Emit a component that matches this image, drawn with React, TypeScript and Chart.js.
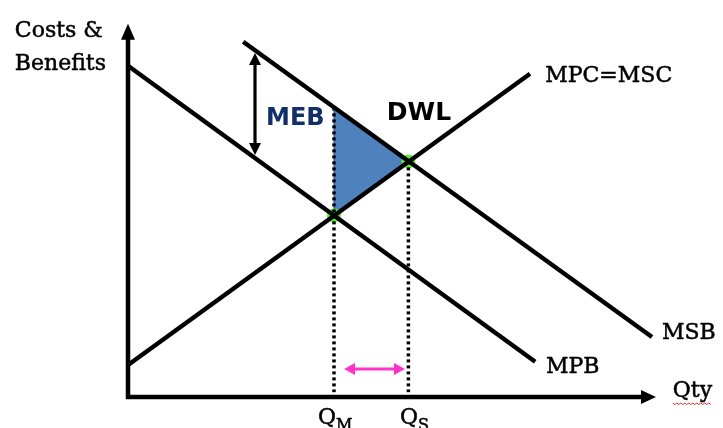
import React, { useEffect, useRef } from "react";
import { Chart, registerables } from "chart.js";

Chart.register(...registerables);

// ---- Data (quantity on x, costs & benefits on y, arbitrary units) ----
const mpbLine = [{ x: 0, y: 8.28 }, { x: 10.18, y: 0.88 }];
const msbLine = [{ x: 2.88, y: 8.88 }, { x: 13.1, y: 1.5 }];
const mpcLine = [{ x: 0, y: 0.8 }, { x: 10.05, y: 8.08 }];
const qM = 5.15; // market quantity (MPB = MPC)
const qS = 7.01; // social optimum (MSB = MSC)
const pM = 4.54;
const pMsbAtQM = 7.24;
const pS = 5.89;
const dwlTriangle = [
  { x: qM, y: pMsbAtQM },
  { x: qS, y: pS },
  { x: qM, y: pM },
  { x: qM, y: pMsbAtQM },
];
const equilibria = [{ x: qM, y: pM }, { x: qS, y: pS }];
const qmDrop = [{ x: qM, y: pMsbAtQM }, { x: qM, y: 0.12 }];
const qsDrop = [{ x: qS, y: pS }, { x: qS, y: 0.12 }];
const axisTopValue = 9.33;
const axisRightValue = 13.2;
const mebArrow = { x: 3.175, top: 8.6, bottom: 6.05 };
const gapArrow = { y: 0.7, left: 5.4, right: 6.925 };

const serifLabels = [
  { text: "Costs &", x: -2.83, y: 9.0 },
  { text: "Benefits", x: -2.83, y: 8.18 },
  { text: "MPC=MSC", x: 10.43, y: 7.87 },
  { text: "MSB", x: 13.35, y: 1.45 },
  { text: "MPB", x: 10.45, y: 0.6 },
  { text: "Qty", x: 13.62, y: 0.0 },
];
const qLabels = [
  { main: "Q", sub: "M", x: 4.75, y: -0.675 },
  { main: "Q", sub: "S", x: 6.8, y: -0.675 },
];
const boldLabels = [
  { text: "MEB", x: 3.45, y: 6.8, color: "#122f6a", size: 24 },
  { text: "DWL", x: 6.47, y: 6.93, color: "#000000", size: 25 },
];

const X_MIN = -3.2, X_MAX = 14.875, Y_MIN = -0.775, Y_MAX = 9.925;

function arrowHead(ctx: CanvasRenderingContext2D, tx: number, ty: number, dx: number, dy: number, len: number, w: number) {
  const bx = tx - dx * len, by = ty - dy * len;
  const px = -dy, py = dx;
  ctx.beginPath();
  ctx.moveTo(tx, ty);
  ctx.lineTo(bx + (px * w) / 2, by + (py * w) / 2);
  ctx.lineTo(bx - (px * w) / 2, by - (py * w) / 2);
  ctx.closePath();
  ctx.fill();
}

function serifText(ctx: CanvasRenderingContext2D, text: string, x: number, y: number) {
  ctx.fillText(text, x, y);
  ctx.strokeText(text, x, y);
}

const annotations = {
  id: "annotations",
  afterDatasetsDraw(chart: any) {
    const { ctx } = chart;
    const xs = chart.scales.x, ys = chart.scales.y;
    const X = (v: number) => xs.getPixelForValue(v);
    const Y = (v: number) => ys.getPixelForValue(v);
    ctx.save();

    // axes
    ctx.strokeStyle = "#000";
    ctx.fillStyle = "#000";
    ctx.lineWidth = 4.5;
    ctx.lineJoin = "miter";
    ctx.lineCap = "butt";
    const ox = X(0), oy = Y(0);
    const tipY = Y(axisTopValue), tipX = X(axisRightValue);
    ctx.beginPath();
    ctx.moveTo(ox, tipY + 12);
    ctx.lineTo(ox, oy);
    ctx.lineTo(tipX - 12, oy);
    ctx.stroke();
    arrowHead(ctx, ox, tipY, 0, -1, 16, 14);
    arrowHead(ctx, tipX, oy, 1, 0, 15, 14);

    // MEB double arrow
    ctx.lineWidth = 3.2;
    const mx = X(mebArrow.x), mt = Y(mebArrow.top), mb = Y(mebArrow.bottom);
    ctx.beginPath();
    ctx.moveTo(mx, mt + 10);
    ctx.lineTo(mx, mb - 10);
    ctx.stroke();
    arrowHead(ctx, mx, mt, 0, -1, 12, 12);
    arrowHead(ctx, mx, mb, 0, 1, 12, 12);

    // pink double arrow
    ctx.strokeStyle = "#ff33cc";
    ctx.fillStyle = "#ff33cc";
    ctx.lineWidth = 3.2;
    const gy = Y(gapArrow.y), gl = X(gapArrow.left), gr = X(gapArrow.right);
    ctx.beginPath();
    ctx.moveTo(gl + 8, gy);
    ctx.lineTo(gr - 8, gy);
    ctx.stroke();
    arrowHead(ctx, gl, gy, -1, 0, 11, 12);
    arrowHead(ctx, gr, gy, 1, 0, 11, 12);

    // serif labels
    ctx.fillStyle = "#000";
    ctx.strokeStyle = "#000";
    ctx.lineWidth = 0.5;
    ctx.textBaseline = "alphabetic";
    ctx.textAlign = "left";
    ctx.font = '22px "DejaVu Serif"';
    for (const l of serifLabels) serifText(ctx, l.text, X(l.x), Y(l.y));
    for (const q of qLabels) {
      ctx.font = '22px "DejaVu Serif"';
      const px = X(q.x), py = Y(q.y);
      serifText(ctx, q.main, px, py);
      const w = ctx.measureText(q.main).width;
      ctx.font = '16px "DejaVu Serif"';
      serifText(ctx, q.sub, px + w, py + 6);
    }
    // spell-check squiggle under "Qty"
    const qty = serifLabels[serifLabels.length - 1];
    ctx.font = '22px "DejaVu Serif"';
    const qw = ctx.measureText(qty.text).width;
    const sx = X(qty.x), sy = Y(qty.y) + 6;
    ctx.strokeStyle = "#e03030";
    ctx.lineWidth = 1;
    ctx.beginPath();
    for (let i = 0; i <= qw; i += 2) {
      const yy = sy + (Math.floor(i / 2) % 2 === 0 ? 0 : 1.5);
      if (i === 0) ctx.moveTo(sx + i, yy);
      else ctx.lineTo(sx + i, yy);
    }
    ctx.stroke();

    // bold labels
    for (const l of boldLabels) {
      ctx.font = `bold ${l.size}px "DejaVu Sans"`;
      ctx.fillStyle = l.color;
      ctx.fillText(l.text, X(l.x), Y(l.y));
    }
    ctx.restore();
  },
};

export default function App() {
  const ref = useRef<HTMLCanvasElement | null>(null);
  useEffect(() => {
    if (!ref.current) return;
    const lineDs = (data: any[], order: number) => ({
      data,
      showLine: true,
      borderColor: "#000",
      borderWidth: 4.5,
      pointRadius: 0,
      fill: false,
      order,
    });
    const chart = new Chart(ref.current, {
      type: "scatter",
      data: {
        datasets: [
          {
            data: dwlTriangle,
            showLine: true,
            fill: "shape",
            backgroundColor: "#4f81bd",
            borderColor: "#22406e",
            borderWidth: 1,
            pointRadius: 0,
            order: 10,
          } as any,
          {
            data: equilibria,
            showLine: false,
            pointRadius: 7,
            pointBackgroundColor: "#5cf02a",
            pointBorderWidth: 0,
            order: 9,
          },
          {
            data: qmDrop,
            showLine: true,
            borderColor: "#000",
            borderWidth: 3.5,
            borderDash: [3, 3],
            pointRadius: 0,
            order: 8,
          },
          {
            data: qsDrop,
            showLine: true,
            borderColor: "#000",
            borderWidth: 3.5,
            borderDash: [3, 3],
            pointRadius: 0,
            order: 8,
          },
          lineDs(mpbLine, 5),
          lineDs(msbLine, 5),
          lineDs(mpcLine, 5),
        ],
      },
      options: {
        responsive: false,
        animation: false,
        layout: { padding: 0, autoPadding: false },
        plugins: { legend: { display: false }, tooltip: { enabled: false } },
        scales: {
          x: { type: "linear", display: false, min: X_MIN, max: X_MAX },
          y: { type: "linear", display: false, min: Y_MIN, max: Y_MAX },
        },
      },
      plugins: [annotations],
    });
    return () => chart.destroy();
  }, []);
  return (
    <div style={{ position: "absolute", left: 0, top: 0, width: 723, height: 428, background: "#fff" }}>
      <canvas ref={ref} width={723} height={428} style={{ display: "block" }} />
    </div>
  );
}
